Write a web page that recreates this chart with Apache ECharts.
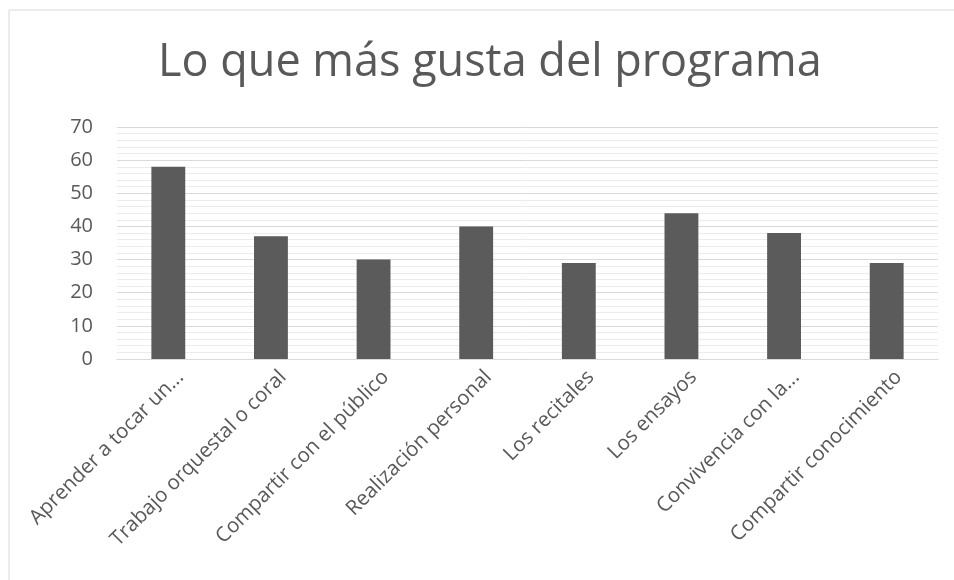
<!DOCTYPE html>
<html lang="es">
  <head>
    <meta charset="UTF-8" />
    <title>Lo que más gusta del programa</title>
    <script src="https://cdn.jsdelivr.net/npm/echarts/dist/echarts.min.js"></script>
    <style>
      html, body { margin: 0; padding: 0; background: #fff; }
      #main { width: 954px; height: 580px; }
    </style>
  </head>
  <body>
    <div id="main"></div>
    <script>
      var categorias = [
        "Aprender a tocar un...",
        "Trabajo orquestal o coral",
        "Compartir con el público",
        "Realización personal",
        "Los recitales",
        "Los ensayos",
        "Convivencia con la...",
        "Compartir conocimiento"
      ];
      var valores = [58, 37, 30, 40, 29, 44, 38, 29];

      var chart = echarts.init(document.getElementById("main"));
      var fuente = "'Open Sans', 'Noto Sans', sans-serif";

      var option = {
        animation: false,
        title: {
          text: "Lo que más gusta del programa",
          left: 153,
          top: 36,
          textStyle: { fontFamily: fuente, fontSize: 45, fontWeight: "normal", color: "#595959" }
        },
        // marco de la imagen (solo arriba e izquierda)
        graphic: [
          { type: "line", shape: { x1: 9, y1: 10, x2: 954, y2: 10 }, style: { stroke: "#d9d9d9", lineWidth: 1 } },
          { type: "line", shape: { x1: 9, y1: 10, x2: 9, y2: 580 }, style: { stroke: "#d9d9d9", lineWidth: 1 } }
        ],
        grid: { left: 117, right: 16, top: 127, bottom: 221 },
        xAxis: {
          type: "category",
          data: categorias,
          axisLine: { lineStyle: { color: "#d9d9d9" } },
          axisTick: { show: false },
          axisLabel: {
            rotate: 45,
            interval: 0,
            margin: 27,
            padding: [0, -17, 0, 0], // desplaza el texto como en Excel
            fontFamily: fuente,
            fontSize: 20.5,
            color: "#595959"
          }
        },
        yAxis: {
          type: "value",
          min: 0,
          max: 70,
          interval: 10,
          axisLine: { show: false },
          axisTick: { show: false },
          axisLabel: { fontFamily: fuente, fontSize: 20, color: "#595959", margin: 24 },
          splitLine: { lineStyle: { color: "#d9d9d9", width: 1 } },
          minorTick: { show: false, splitNumber: 5 },
          minorSplitLine: { show: true, lineStyle: { color: "#ececec", width: 1 } }
        },
        series: [
          {
            type: "bar",
            data: valores,
            barWidth: "33%",
            itemStyle: { color: "#5b5b5b" }
          }
        ]
      };

      chart.setOption(option);
    </script>
  </body>
</html>
